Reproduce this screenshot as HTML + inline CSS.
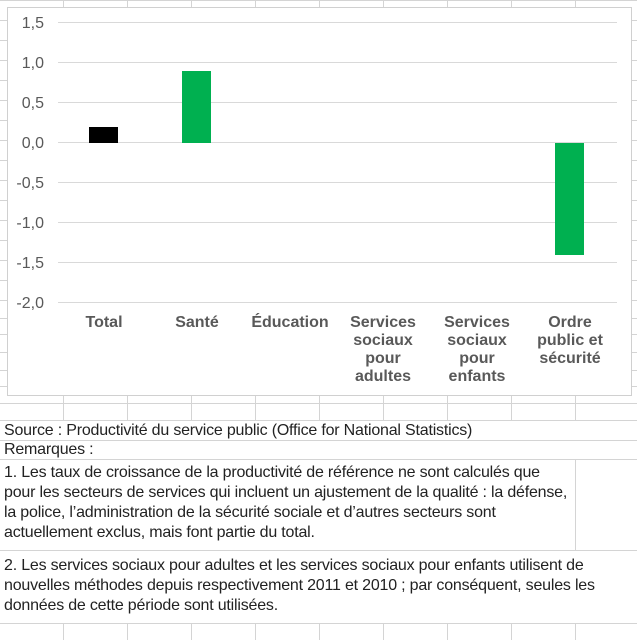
<!DOCTYPE html>
<html><head><meta charset="utf-8"><style>
body{margin:0;width:637px;height:640px;overflow:hidden;background:#fff;font-family:"Liberation Sans",Arial,sans-serif;}
.t{position:absolute;left:4px;font-size:16px;color:#222;line-height:20px;white-space:nowrap;letter-spacing:-0.2px}
</style></head><body>
<svg width="637" height="640" style="position:absolute;left:0;top:0">
<g stroke="#d4d4d4" stroke-width="1">
<line x1="0" y1="0.5" x2="637" y2="0.5"/>
<line x1="0" y1="20.5" x2="637" y2="20.5"/>
<line x1="0" y1="40.5" x2="637" y2="40.5"/>
<line x1="0" y1="60.5" x2="637" y2="60.5"/>
<line x1="0" y1="80.5" x2="637" y2="80.5"/>
<line x1="0" y1="100.5" x2="637" y2="100.5"/>
<line x1="0" y1="120.5" x2="637" y2="120.5"/>
<line x1="0" y1="140.5" x2="637" y2="140.5"/>
<line x1="0" y1="160.5" x2="637" y2="160.5"/>
<line x1="0" y1="180.5" x2="637" y2="180.5"/>
<line x1="0" y1="200.5" x2="637" y2="200.5"/>
<line x1="0" y1="220.5" x2="637" y2="220.5"/>
<line x1="0" y1="240.5" x2="637" y2="240.5"/>
<line x1="0" y1="260.5" x2="637" y2="260.5"/>
<line x1="0" y1="280.5" x2="637" y2="280.5"/>
<line x1="0" y1="300.5" x2="637" y2="300.5"/>
<line x1="0" y1="318.5" x2="637" y2="318.5"/>
<line x1="0" y1="334.5" x2="637" y2="334.5"/>
<line x1="0" y1="352.5" x2="637" y2="352.5"/>
<line x1="0" y1="370.5" x2="637" y2="370.5"/>
<line x1="0" y1="386.5" x2="637" y2="386.5"/>
<line x1="0" y1="403.5" x2="637" y2="403.5"/>
<line x1="0" y1="420.5" x2="637" y2="420.5"/>
<line x1="0" y1="440.5" x2="637" y2="440.5"/>
<line x1="0" y1="459.5" x2="637" y2="459.5"/>
<line x1="0" y1="550.5" x2="637" y2="550.5"/>
<line x1="0" y1="623.5" x2="637" y2="623.5"/>
<line x1="63.5" y1="0" x2="63.5" y2="420"/>
<line x1="127.5" y1="0" x2="127.5" y2="420"/>
<line x1="191.5" y1="0" x2="191.5" y2="420"/>
<line x1="255.5" y1="0" x2="255.5" y2="420"/>
<line x1="319.5" y1="0" x2="319.5" y2="420"/>
<line x1="383.5" y1="0" x2="383.5" y2="420"/>
<line x1="447.5" y1="0" x2="447.5" y2="420"/>
<line x1="511.5" y1="0" x2="511.5" y2="420"/>
<line x1="575.5" y1="0" x2="575.5" y2="420"/>
<line x1="575.5" y1="459" x2="575.5" y2="550"/>
<line x1="63.5" y1="623" x2="63.5" y2="640"/>
<line x1="127.5" y1="623" x2="127.5" y2="640"/>
<line x1="191.5" y1="623" x2="191.5" y2="640"/>
<line x1="255.5" y1="623" x2="255.5" y2="640"/>
<line x1="319.5" y1="623" x2="319.5" y2="640"/>
<line x1="383.5" y1="623" x2="383.5" y2="640"/>
<line x1="447.5" y1="623" x2="447.5" y2="640"/>
<line x1="511.5" y1="623" x2="511.5" y2="640"/>
<line x1="575.5" y1="623" x2="575.5" y2="640"/>
</g>
<rect x="7.5" y="7.5" width="624" height="388" fill="#fff" stroke="#d0d0d0"/>
<g stroke="#d9d9d9">
<line x1="58" y1="22.5" x2="617" y2="22.5"/>
<line x1="58" y1="62.5" x2="617" y2="62.5"/>
<line x1="58" y1="102.5" x2="617" y2="102.5"/>
<line x1="58" y1="142.5" x2="617" y2="142.5"/>
<line x1="58" y1="182.5" x2="617" y2="182.5"/>
<line x1="58" y1="222.5" x2="617" y2="222.5"/>
<line x1="58" y1="262.5" x2="617" y2="262.5"/>
<line x1="58" y1="302.5" x2="617" y2="302.5"/>
</g>
<g font-size="16" fill="#595959" text-anchor="end" font-family="Liberation Sans, Arial, sans-serif">
<text x="44" y="28">1,5</text><text x="44" y="68">1,0</text><text x="44" y="108">0,5</text>
<text x="44" y="148">0,0</text><text x="44" y="188">-0,5</text><text x="44" y="228">-1,0</text>
<text x="44" y="268">-1,5</text><text x="44" y="308">-2,0</text>
</g>
<rect x="89" y="127" width="29" height="16" fill="#000"/>
<rect x="182" y="71" width="29" height="72" fill="#00b050"/>
<rect x="555" y="143" width="29" height="112" fill="#00b050"/>
<g font-size="16" font-weight="bold" fill="#595959" text-anchor="middle" font-family="Liberation Sans, Arial, sans-serif">
<text x="104" y="327">Total</text>
<text x="197" y="327">Santé</text>
<text x="290" y="327">Éducation</text>
<text x="383" y="327">Services</text><text x="383" y="345">sociaux</text><text x="383" y="363">pour</text><text x="383" y="381">adultes</text>
<text x="477" y="327">Services</text><text x="477" y="345">sociaux</text><text x="477" y="363">pour</text><text x="477" y="381">enfants</text>
<text x="570" y="327">Ordre</text><text x="570" y="345">public et</text><text x="570" y="363">sécurité</text>
</g>
</svg>
<div class="t" style="top:421px">Source : Productivité du service public (Office for National Statistics)</div>
<div class="t" style="top:440px">Remarques :</div>
<div class="t" style="top:463px">1. Les taux de croissance de la productivité de référence ne sont calculés que<br>pour les secteurs de services qui incluent un ajustement de la qualité : la défense,<br>la police, l’administration de la sécurité sociale et d’autres secteurs sont<br>actuellement exclus, mais font partie du total.</div>
<div class="t" style="top:556px">2. Les services sociaux pour adultes et les services sociaux pour enfants utilisent de<br>nouvelles méthodes depuis respectivement 2011 et 2010 ; par conséquent, seules les<br>données de cette période sont utilisées.</div>
</body></html>
